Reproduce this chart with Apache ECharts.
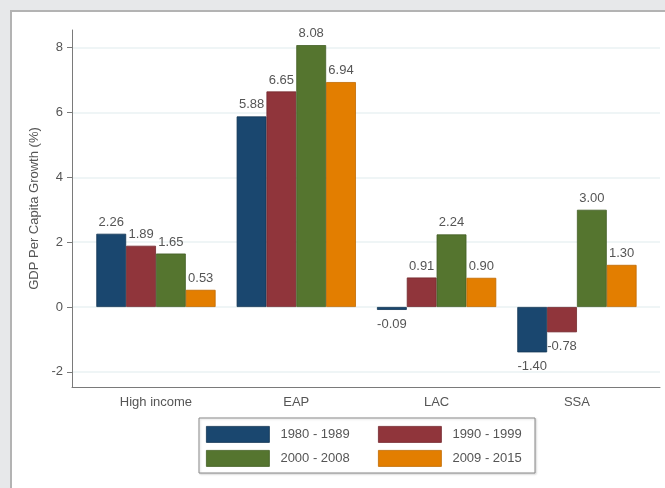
<!DOCTYPE html>
<html>
<head>
<meta charset="utf-8">
<script src="https://cdn.jsdelivr.net/npm/echarts@6/dist/echarts.min.js"></script>
<style>html,body{margin:0;padding:0;background:#e7e8ea;}#c{width:665px;height:488px;}</style>
</head>
<body>
<div id="c"></div>
<script>
const categories = ['High income', 'EAP', 'LAC', 'SSA'];
const periods = ['1980 - 1989', '1990 - 1999', '2000 - 2008', '2009 - 2015'];
const s1980 = [2.26, 5.88, -0.09, -1.40];
const s1990 = [1.89, 6.65, 0.91, -0.78];
const s2000 = [1.65, 8.08, 2.24, 3.00];
const s2009 = [0.53, 6.94, 0.90, 1.30];
const yTicks = [-2, 0, 2, 4, 6, 8];
const seriesValues = [s1980, s1990, s2000, s2009];
const colors = ['#1a476f', '#90353b', '#55752f', '#e37e00'];
const borders = ['#133654', '#74282e', '#435e24', '#c06a00'];

const yMin = -2.468, yMax = 8.546;
const font = 'Liberation Sans, Arial, Helvetica, sans-serif';
const txt = '#555';

const chart = echarts.init(document.getElementById('c'));

const series = seriesValues.map((vals, i) => ({
  name: periods[i],
  type: 'bar',
  xAxisIndex: 1,
  yAxisIndex: 1,
  barGap: '0%',
  barCategoryGap: '15%',
  itemStyle: { color: colors[i], borderColor: borders[i], borderWidth: 0.8 },
  data: vals.map(v => ({
    value: v,
    label: { position: v < 0 ? 'bottom' : 'top', distance: v < 0 ? 8 : 5 }
  })),
  label: {
    show: true,
    fontFamily: font,
    fontSize: 13,
    color: txt,
    formatter: p => p.value.toFixed(2)
  }
}));

const legendPos = [[206, 426], [378, 426], [206, 450], [378, 450]];
const legends = periods.map((p, i) => ({
  data: [p],
  left: legendPos[i][0],
  top: legendPos[i][1],
  padding: 0,
  icon: 'rect',
  itemWidth: 63,
  itemHeight: 16,
  selectedMode: false,
  itemStyle: { borderColor: borders[i], borderWidth: 0.8 },
  textStyle: { fontFamily: font, fontSize: 13, color: txt, padding: [0, 0, 0, 6] }
}));

chart.setOption({
  backgroundColor: '#e7e8ea',
  animation: false,
  color: colors,
  graphic: [
    { type: 'rect', z: -10, shape: { x: 11, y: 11, width: 700, height: 520 },
      style: { fill: '#ffffff', stroke: '#b3b3b3', lineWidth: 2 } },
    { type: 'rect', z: 1, shape: { x: 199, y: 418, width: 336, height: 55 },
      style: { fill: '#ffffff', stroke: '#8a8a8a', lineWidth: 1,
               shadowColor: 'rgba(0,0,0,0.15)', shadowBlur: 2, shadowOffsetX: 1, shadowOffsetY: 1 } }
  ],
  legend: legends,
  grid: [
    { left: 72, top: 30, width: 588, height: 357 },
    { left: 85.8, top: 30, width: 561.3, height: 357 }
  ],
  xAxis: [
    { gridIndex: 0, type: 'value', min: 0, max: 1,
      axisLine: { show: true, onZero: false, lineStyle: { color: '#7a7a7a', width: 1 } },
      axisTick: { show: false }, axisLabel: { show: false }, splitLine: { show: false } },
    { gridIndex: 1, type: 'category', data: categories,
      axisLine: { show: false }, axisTick: { show: false }, splitLine: { show: false },
      axisLabel: { fontFamily: font, fontSize: 13, color: txt, margin: 9 } }
  ],
  yAxis: [
    { gridIndex: 0, type: 'value', min: yMin, max: yMax,
      name: 'GDP Per Capita Growth (%)', nameLocation: 'middle', nameGap: 31,
      nameTextStyle: { fontFamily: font, fontSize: 13, color: txt },
      axisLine: { show: true, onZero: false, lineStyle: { color: '#7a7a7a', width: 1 } },
      axisTick: { show: true, length: 5, customValues: yTicks, lineStyle: { color: '#7a7a7a' } },
      axisLabel: { fontFamily: font, fontSize: 13, color: txt, margin: 9, customValues: yTicks },
      splitLine: { show: true, customValues: yTicks, lineStyle: { color: '#eaf2f3', width: 1.5 } } },
    { gridIndex: 1, type: 'value', min: yMin, max: yMax, show: false,
      splitLine: { show: false } }
  ],
  series: series
});
</script>
</body>
</html>
